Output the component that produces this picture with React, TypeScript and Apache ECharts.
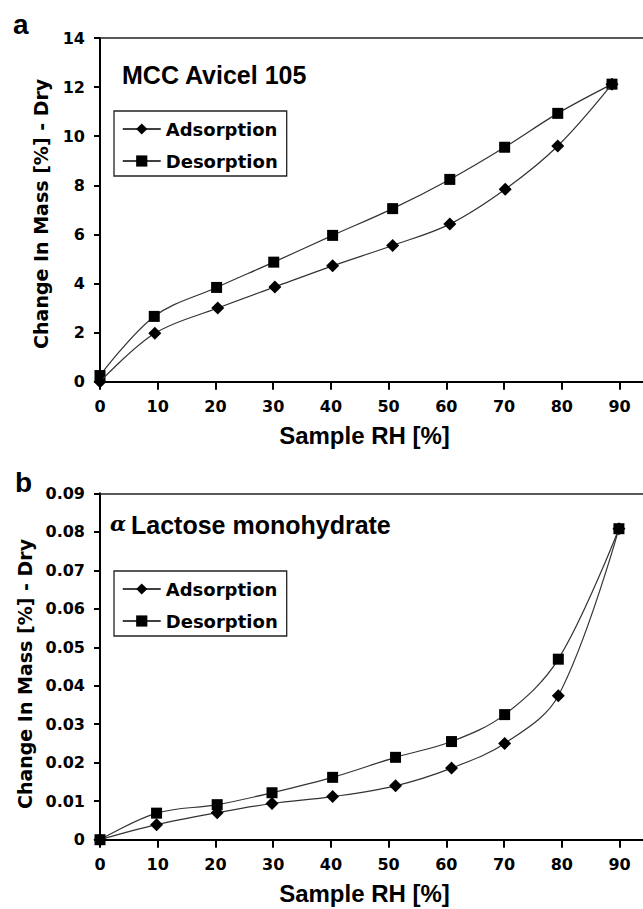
import React, { useEffect, useRef } from 'react';
import * as echarts from 'echarts';

// ---- Data ----
const xTickLabels = [0, 10, 20, 30, 40, 50, 60, 70, 80, 90];

// Panel a: MCC Avicel 105
const rhAdsA = [0, 9.5, 20.4, 30.3, 40.3, 50.7, 60.6, 70.2, 79.3, 88.7];
const massAdsA = [0, 1.97, 3.0, 3.86, 4.72, 5.55, 6.42, 7.84, 9.6, 12.12];
const rhDesA = [0, 9.4, 20.2, 30.1, 40.3, 50.7, 60.6, 70.1, 79.3, 88.7];
const massDesA = [0.25, 2.66, 3.84, 4.87, 5.96, 7.05, 8.24, 9.55, 10.93, 12.12];

// Panel b: alpha Lactose monohydrate
const rhB = [0, 9.8, 20.3, 29.8, 40.3, 51.2, 60.9, 70.1, 79.4, 89.9];
const massAdsB = [0, 0.0039, 0.007, 0.0094, 0.0112, 0.014, 0.0186, 0.025, 0.0374, 0.0808];
const massDesB = [0, 0.0069, 0.0091, 0.0122, 0.0162, 0.0214, 0.0255, 0.0325, 0.0469, 0.0808];

const seriesNames = ['Adsorption', 'Desorption'];
const xName = 'Sample RH [%]';
const yName = 'Change In Mass [%] - Dry';
const titleA = 'MCC Avicel 105';
const titleB = 'Lactose monohydrate';

// the x axis runs past 90 and is cut at the right edge of the picture
const X_MAX = 94.07;

const zip = (xs: number[], ys: number[]) => xs.map((x, i) => [x, ys[i]]);

const tickFont = { fontFamily: "'DejaVu Sans', sans-serif", fontWeight: 'bold' as const, fontSize: 16, color: '#000' };

function makeX(gridIndex: number) {
  return {
    type: 'value',
    gridIndex,
    position: 'bottom',
    min: 0,
    max: X_MAX,
    interval: 10,
    name: xName,
    nameLocation: 'middle',
    nameGap: 42,
    nameTextStyle: {
      fontFamily: "'Liberation Sans', Arial, sans-serif",
      fontWeight: 'bold',
      fontSize: 24,
      color: '#000',
      padding: [0, 14, 0, 0],
    },
    axisLine: { show: true, onZero: false, lineStyle: { color: '#000', width: 2 } },
    axisTick: { show: true, inside: false, length: 8, lineStyle: { color: '#000', width: 2 } },
    axisLabel: {
      ...tickFont,
      margin: 17,
      showMaxLabel: false,
      formatter: (v: number) =>
        xTickLabels.includes(Math.round(v)) && Math.abs(v - Math.round(v)) < 1e-6 ? String(Math.round(v)) : '',
    },
    splitLine: { show: false },
  };
}

function makeTopX(gridIndex: number) {
  return {
    type: 'value',
    gridIndex,
    position: 'top',
    min: 0,
    max: X_MAX,
    axisLine: { show: true, onZero: false, lineStyle: { color: '#222', width: 1.5 } },
    axisTick: { show: false },
    axisLabel: { show: false },
    splitLine: { show: false },
  };
}

function makeY(gridIndex: number, max: number, interval: number, gap: number, pad: number, fmt: (v: number) => string) {
  return {
    type: 'value',
    gridIndex,
    min: 0,
    max,
    interval,
    name: yName,
    nameLocation: 'middle',
    nameGap: gap,
    nameTextStyle: {
      fontFamily: "'DejaVu Sans', sans-serif",
      fontWeight: 'bold',
      fontSize: 19,
      color: '#000',
      padding: [0, pad, 0, 0],
    },
    axisLine: { show: true, onZero: false, lineStyle: { color: '#000', width: 2 } },
    axisTick: { show: true, inside: false, length: 6, lineStyle: { color: '#000', width: 2 } },
    axisLabel: { ...tickFont, margin: 15, formatter: fmt },
    splitLine: { show: false },
  };
}

function makeSeries(name: string, idx: number, data: number[][], symbol: string, size: number) {
  return {
    type: 'line',
    name,
    xAxisIndex: idx * 2,
    yAxisIndex: idx,
    data,
    smooth: 0.35,
    symbol,
    symbolSize: size,
    showSymbol: true,
    lineStyle: { color: '#333', width: 1.2 },
    itemStyle: { color: '#000', borderWidth: 0 },
    emphasis: { disabled: true },
    z: symbol === 'diamond' ? 3 : 2,
  };
}

function makeLegend(top: number) {
  return {
    data: seriesNames,
    orient: 'vertical',
    left: 114,
    top,
    itemWidth: 38,
    itemHeight: 14,
    itemGap: 12,
    padding: [8, 9, 5, 8],
    borderColor: '#222',
    borderWidth: 1.3,
    backgroundColor: '#fff',
    selectedMode: false,
    textStyle: { fontFamily: "'DejaVu Sans', sans-serif", fontWeight: 'bold', fontSize: 18, color: '#000', lineHeight: 20 },
    itemStyle: { color: '#000' },
    lineStyle: { color: '#000', width: 1.5 },
  };
}

export default function App() {
  const ref = useRef<HTMLDivElement>(null);
  useEffect(() => {
    const chart = echarts.init(ref.current!, null, { renderer: 'svg' });
    const option: any = {
      animation: false,
      backgroundColor: '#fff',
      grid: [
        { left: 100, top: 38, right: 0, height: 343.7 },
        { left: 100, top: 493.3, right: 0, height: 346.4 },
      ],
      xAxis: [makeX(0), makeTopX(0), makeX(1), makeTopX(1)],
      yAxis: [
        makeY(0, 14, 2, 50, 8, (v: number) => String(v)),
        makeY(1, 0.09, 0.01, 65, 15, (v: number) => (v === 0 ? '0' : v.toFixed(2))),
      ],
      legend: [makeLegend(111), makeLegend(571)],
      series: [
        makeSeries(seriesNames[0], 0, zip(rhAdsA, massAdsA), 'diamond', 13),
        makeSeries(seriesNames[1], 0, zip(rhDesA, massDesA), 'rect', 11),
        makeSeries(seriesNames[0], 1, zip(rhB, massAdsB), 'diamond', 13),
        makeSeries(seriesNames[1], 1, zip(rhB, massDesB), 'rect', 11),
      ],
      graphic: [
        {
          type: 'text', left: 13, top: 10,
          style: { text: 'a', fontFamily: "'Liberation Sans', Arial, sans-serif", fontWeight: 'bold', fontSize: 28, fill: '#000' },
        },
        {
          type: 'text', left: 15, top: 468,
          style: { text: 'b', fontFamily: "'Liberation Sans', Arial, sans-serif", fontWeight: 'bold', fontSize: 28, fill: '#000' },
        },
        {
          type: 'text', left: 122, top: 62,
          style: { text: titleA, fontFamily: "'Liberation Sans', Arial, sans-serif", fontWeight: 'bold', fontSize: 25, fill: '#000' },
        },
        {
          type: 'text', left: 110, top: 513,
          style: { text: 'α', fontFamily: "'DejaVu Serif', serif", fontWeight: 'bold', fontStyle: 'italic', fontSize: 21, fill: '#000' },
        },
        {
          type: 'text', left: 131, top: 512,
          style: { text: titleB, fontFamily: "'Liberation Sans', Arial, sans-serif", fontWeight: 'bold', fontSize: 25, fill: '#000' },
        },
      ],
    };
    chart.setOption(option);
    return () => chart.dispose();
  }, []);
  return <div ref={ref} style={{ position: 'absolute', left: 0, top: 0, width: 643, height: 909 }} />;
}
